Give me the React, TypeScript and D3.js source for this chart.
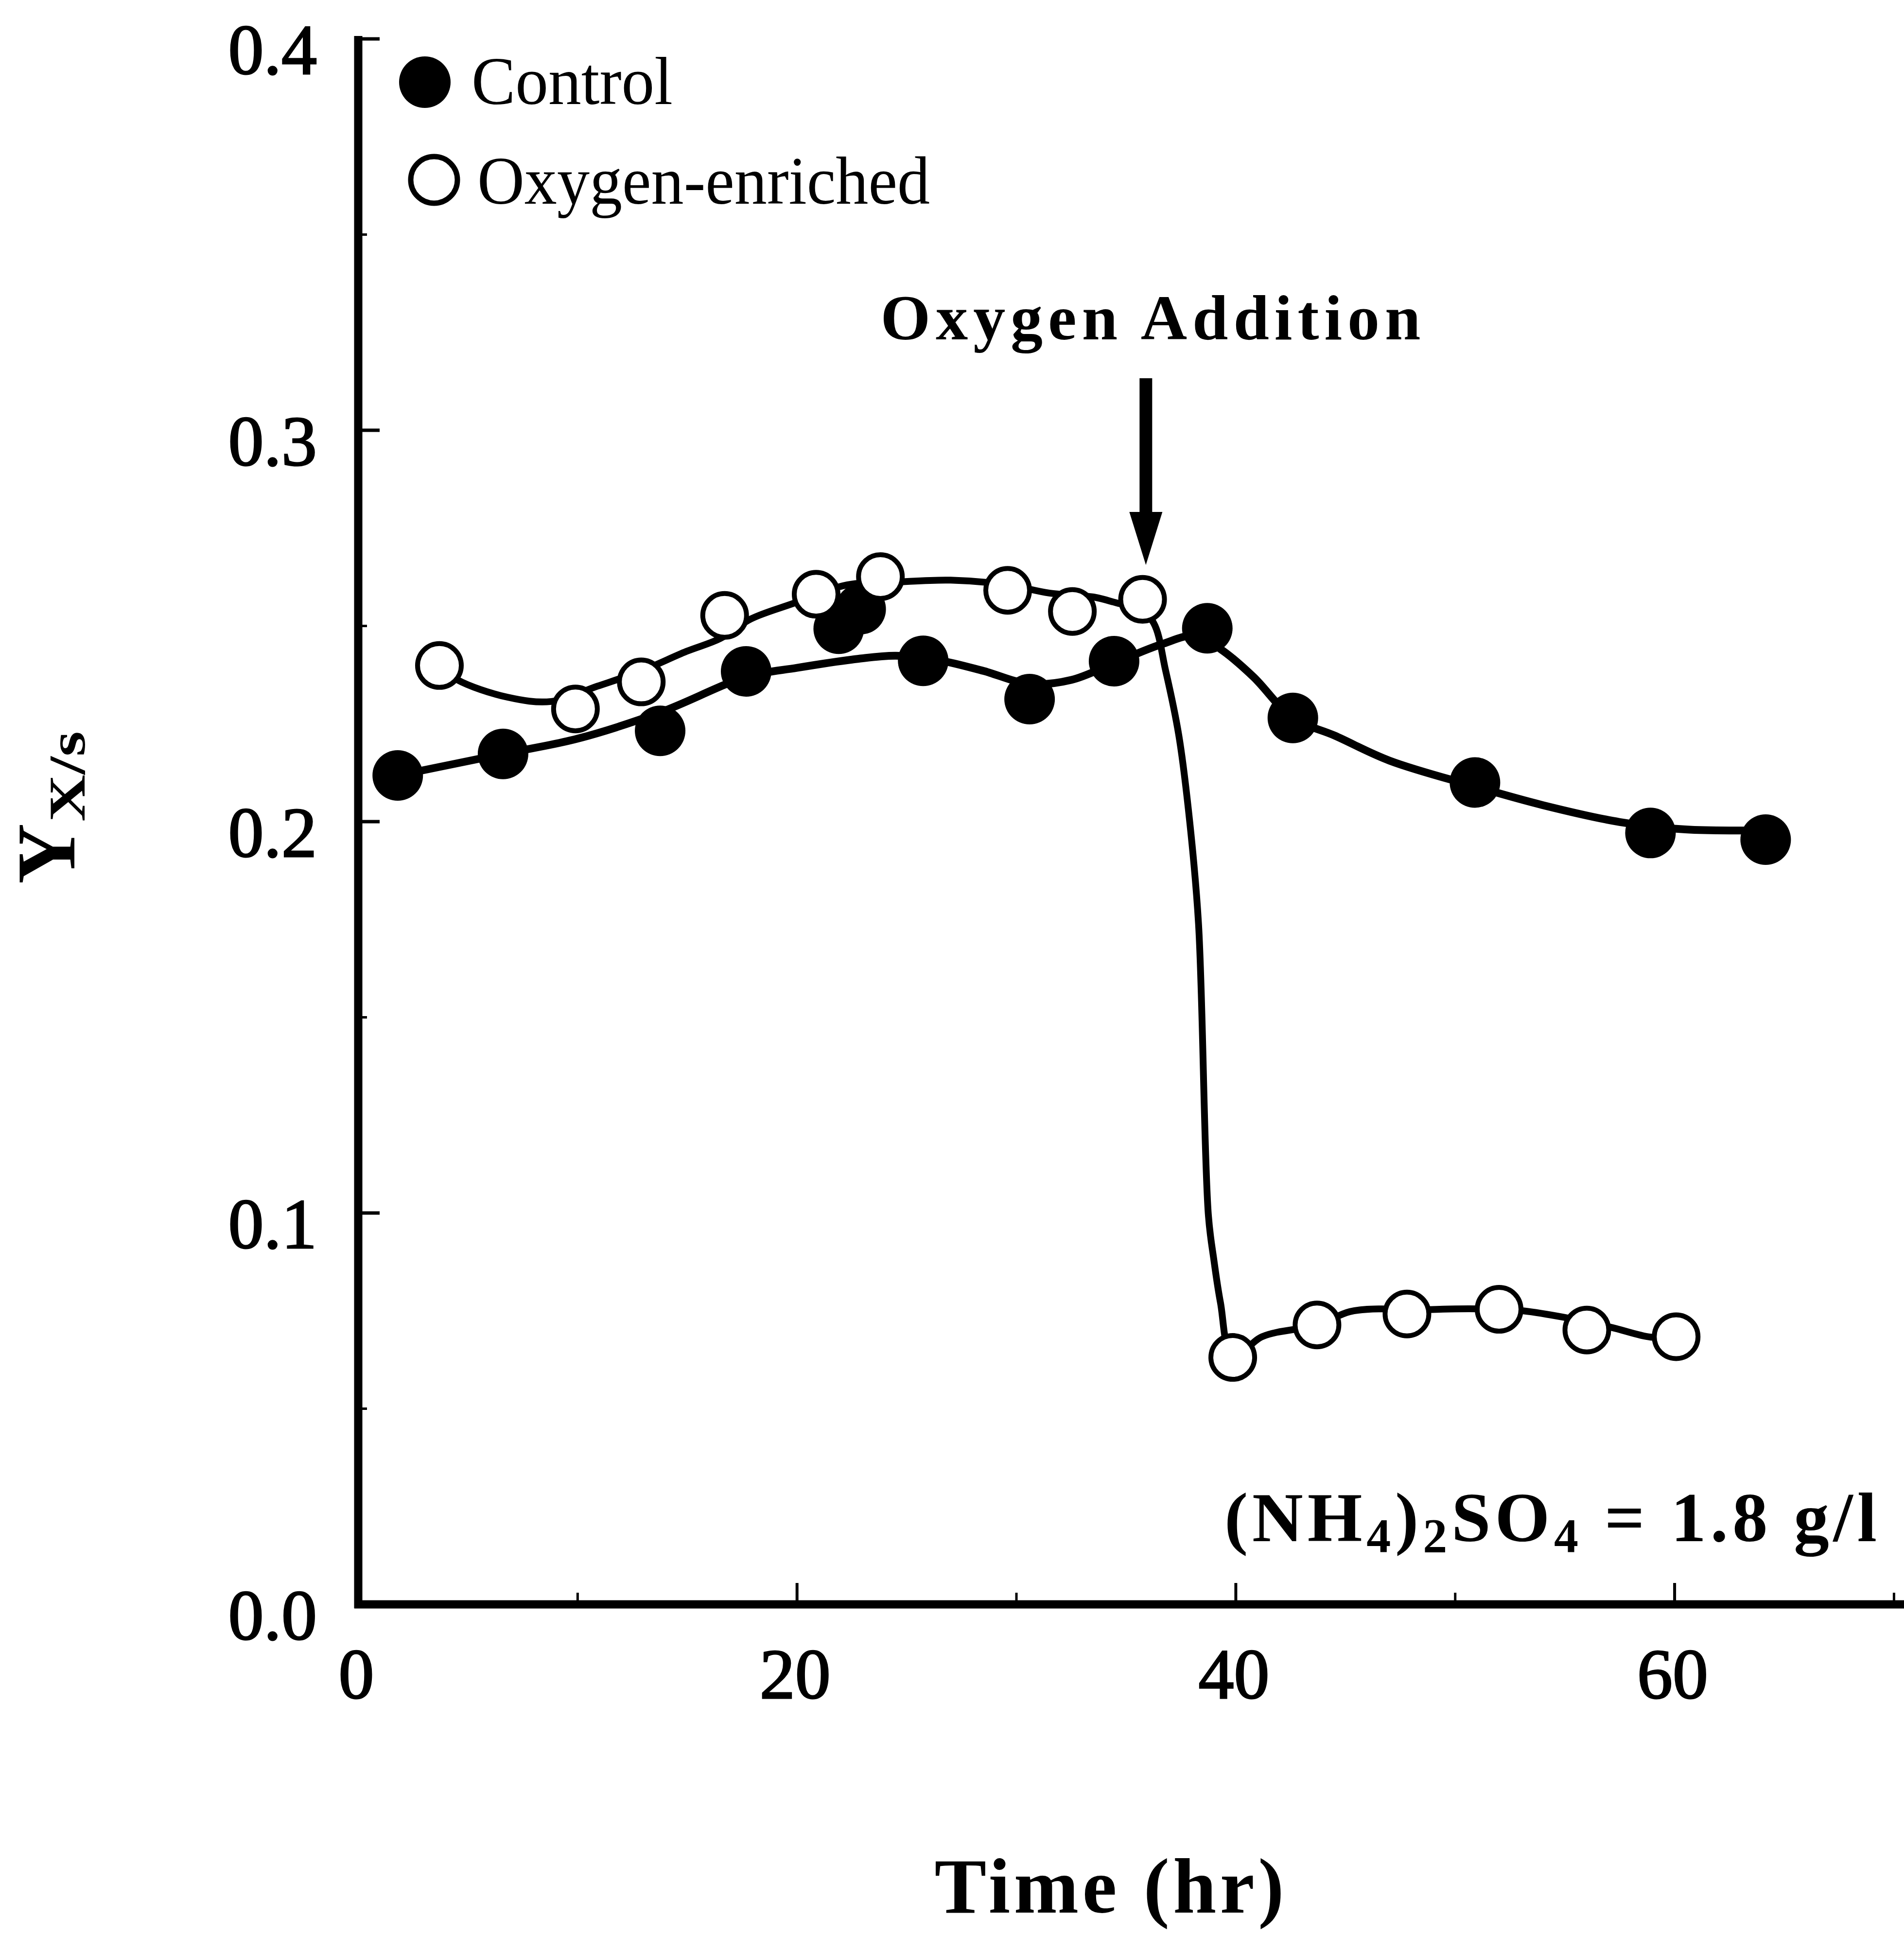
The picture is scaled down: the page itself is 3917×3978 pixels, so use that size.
import React from 'react';
import * as d3 from 'd3';

const W = 3917;
const H = 3978;

// Measured data points
const controlTime = [1.8, 6.6, 13.76, 17.68, 21.9, 22.9, 25.75, 30.6, 34.45, 38.7, 42.6, 50.9, 58.9, 64.15];
const controlYield = [0.2118, 0.2173, 0.2232, 0.2384, 0.2493, 0.2543, 0.2411, 0.2313, 0.241, 0.2494, 0.2265, 0.21, 0.1971, 0.1954];

const oxygenTime = [3.7, 9.9, 12.9, 16.7, 20.87, 23.8, 29.6, 32.55, 35.75, 39.86, 43.7, 47.8, 52.0, 56.0, 60.07];
const oxygenYield = [0.2399, 0.2288, 0.2357, 0.2527, 0.2581, 0.2626, 0.2591, 0.2537, 0.2568, 0.0631, 0.0714, 0.0742, 0.0754, 0.0701, 0.0684];

// Hand-drawn fitted curves (knots)
const controlCurveTime = [1.8, 6.6, 10, 13.8, 17.7, 20, 22.5, 24.5, 26.5, 28.5, 30.6, 32.5, 34.45, 36.6, 38.2, 39.4, 40.8, 42.6, 44.5, 47, 50.9, 54, 57.5, 60.5, 64.15];
const controlCurveYield = [0.2118, 0.2173, 0.2212, 0.228, 0.237, 0.2393, 0.2414, 0.2424, 0.2412, 0.2385, 0.2352, 0.2362, 0.2405, 0.2453, 0.2475, 0.2437, 0.237, 0.2265, 0.222, 0.2156, 0.209, 0.2042, 0.1999, 0.198, 0.1978];

const oxygenCurveTime = [3.7, 4.5, 6.8, 8.8, 10.9, 12.9, 14.96, 16.5, 17.9, 19.8, 22.3, 24.5, 27, 29.6, 31.5, 33.6, 34.7, 35.5, 36.25, 36.8, 37.4, 37.9, 38.3, 38.75, 39.0, 39.3, 39.86, 41.2, 43.7, 45.2, 46.6, 47.8, 50, 52, 53.1, 55.0, 57.1, 58.9, 60.07];
const oxygenCurveYield = [0.2399, 0.2363, 0.2318, 0.2307, 0.2346, 0.2385, 0.2435, 0.2468, 0.2518, 0.2557, 0.2605, 0.2612, 0.2617, 0.2605, 0.2584, 0.2573, 0.2557, 0.255, 0.2508, 0.2386, 0.2221, 0.1999, 0.1739, 0.0994, 0.088, 0.0771, 0.0631, 0.0684, 0.0714, 0.0748, 0.0755, 0.0752, 0.0755, 0.0754, 0.075, 0.0733, 0.0708, 0.0683, 0.0684];

// Axis ticks
const xMajorTicks = [0, 20, 40, 60];
const xTickLabels = ['0', '20', '40', '60'];
const xMinorTicks = [10, 30, 50, 70];
const yMajorTicks = [0.0, 0.1, 0.2, 0.3, 0.4];
const yTickLabels = ['0.0', '0.1', '0.2', '0.3', '0.4'];
const yMinorTicks = [0.05, 0.15, 0.25, 0.35];

// Annotation arrow (time, yield values)
const arrowTime = 35.9;
const arrowTopYield = 0.3133;
const arrowTipYield = 0.2656;

const FONT = '"Liberation Serif", "DejaVu Serif", serif';

export default function App() {
  const x = d3.scaleLinear().domain([0, 70.5]).range([737, 3919]);
  const y = d3.scaleLinear().domain([0, 0.4]).range([3300, 80]);

  const line = d3
    .line<[number, number]>()
    .x((d) => x(d[0]))
    .y((d) => y(d[1]))
    .curve(d3.curveCatmullRom.alpha(0.5));

  const controlPath = line(controlCurveTime.map((t, i) => [t, controlCurveYield[i]]) as [number, number][]) || '';
  const oxygenPath = line(oxygenCurveTime.map((t, i) => [t, oxygenCurveYield[i]]) as [number, number][]) || '';

  const x0 = x(0);
  const y0 = y(0);

  const ax = x(arrowTime);
  const aTop = y(arrowTopYield);
  const aTip = y(arrowTipYield);
  const headLen = 109;
  const headHalf = 34;
  const shaftHalf = 13;
  const arrowD = `M${ax - shaftHalf},${aTop} L${ax + shaftHalf},${aTop} L${ax + shaftHalf},${aTip - headLen} L${ax + headHalf},${aTip - headLen} L${ax},${aTip} L${ax - headHalf},${aTip - headLen} L${ax - shaftHalf},${aTip - headLen} Z`;

  return (
    <svg
      width={W}
      height={H}
      viewBox={`0 0 ${W} ${H}`}
      style={{ position: 'absolute', left: 0, top: 0, background: '#fff' }}
      fontFamily={FONT}
    >
      <rect x={0} y={0} width={W} height={H} fill="#fff" />

      {/* axes */}
      <line x1={x0} y1={y0 + 8} x2={x0} y2={y(0.4) - 6} stroke="#000" strokeWidth={17} />
      <line x1={x0 - 8} y1={y0} x2={W} y2={y0} stroke="#000" strokeWidth={17} />

      {yMajorTicks.map((v) => (
        <line key={'ym' + v} x1={x0} y1={y(v)} x2={x0 + 44} y2={y(v)} stroke="#000" strokeWidth={7} />
      ))}
      {yMinorTicks.map((v) => (
        <line key={'yn' + v} x1={x0} y1={y(v)} x2={x0 + 18} y2={y(v)} stroke="#000" strokeWidth={5} />
      ))}
      {xMajorTicks.map((t) => (
        <line key={'xm' + t} x1={x(t)} y1={y0} x2={x(t)} y2={y0 - 44} stroke="#000" strokeWidth={6} />
      ))}
      {xMinorTicks.map((t) => (
        <line key={'xn' + t} x1={x(t)} y1={y0} x2={x(t)} y2={y0 - 24} stroke="#000" strokeWidth={5} />
      ))}

      {yMajorTicks.map((v, i) => (
        <text
          key={'yl' + v}
          x={652}
          y={y(v) + 72}
          textAnchor="end"
          fontSize={146}
          stroke="#000"
          strokeWidth={3}
          fill="#000"
        >
          {yTickLabels[i]}
        </text>
      ))}
      {xMajorTicks.map((t, i) => (
        <text
          key={'xl' + t}
          x={x(t) - 4}
          y={3493}
          textAnchor="middle"
          fontSize={146}
          stroke="#000"
          strokeWidth={3}
          fill="#000"
        >
          {xTickLabels[i]}
        </text>
      ))}

      {/* axis titles */}
      <text
        x={2282}
        y={3934}
        textAnchor="middle"
        fontSize={160}
        fontWeight="bold"
        textLength={719}
        lengthAdjust="spacing"
      >
        Time (hr)
      </text>
      <text transform="translate(153,1818) rotate(-90)" fontSize={172} fontWeight="bold">
        Y
      </text>
      <text
        transform="translate(174,1690) rotate(-90)"
        fontSize={106}
        fontWeight="bold"
        textLength={186}
        lengthAdjust="spacingAndGlyphs"
      >
        X/s
      </text>

      {/* curves */}
      <path d={controlPath} fill="none" stroke="#000" strokeWidth={16} strokeLinecap="round" strokeLinejoin="round" />
      <path d={oxygenPath} fill="none" stroke="#000" strokeWidth={14} strokeLinecap="round" strokeLinejoin="round" />

      {/* markers */}
      {controlTime.map((t, i) => (
        <circle key={'c' + i} cx={x(t)} cy={y(controlYield[i])} r={52} fill="#000" />
      ))}
      {oxygenTime.map((t, i) => (
        <circle key={'o' + i} cx={x(t)} cy={y(oxygenYield[i])} r={45} fill="#fff" stroke="#000" strokeWidth={10} />
      ))}

      {/* legend */}
      <circle cx={874} cy={169} r={53} fill="#000" />
      <text x={970} y={214} fontSize={140} textLength={414} lengthAdjust="spacingAndGlyphs">
        Control
      </text>
      <circle cx={893} cy={370} r={48} fill="#fff" stroke="#000" strokeWidth={11} />
      <text x={982} y={419} fontSize={140} textLength={931} lengthAdjust="spacingAndGlyphs">
        Oxygen-enriched
      </text>

      {/* annotation */}
      <text
        x={2367}
        y={698}
        textAnchor="middle"
        fontSize={132}
        fontWeight="bold"
        textLength={1111}
        lengthAdjust="spacing"
      >
        Oxygen Addition
      </text>
      <path d={arrowD} fill="#000" />

      <text x={2519} y={3170} fontSize={145} fontWeight="bold" textLength={1342} lengthAdjust="spacing">
        (NH<tspan fontSize={100} dy={22}>4</tspan>
        <tspan dy={-22}>)</tspan>
        <tspan fontSize={100} dy={22}>2</tspan>
        <tspan dy={-22}>SO</tspan>
        <tspan fontSize={100} dy={22}>4</tspan>
        <tspan dy={-22}> = 1.8 g/l</tspan>
      </text>
    </svg>
  );
}
